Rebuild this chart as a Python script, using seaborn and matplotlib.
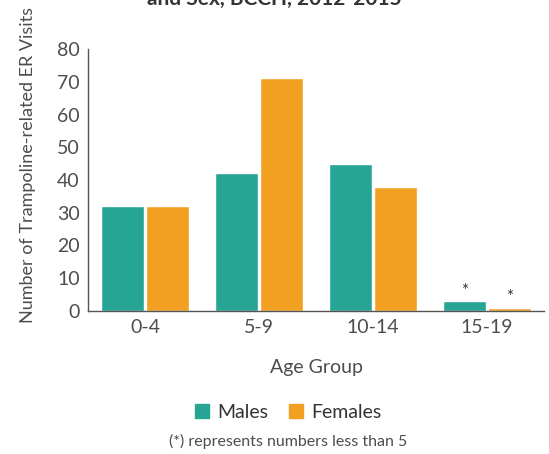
import matplotlib
matplotlib.use("Agg")
import matplotlib.pyplot as plt
import seaborn as sns
import pandas as pd
from matplotlib.lines import Line2D

age_groups = ["0-4", "5-9", "10-14", "15-19"]
males = [32, 42, 45, 3]
females = [32, 71, 38, 1]
small_flags_m = [False, False, False, True]
small_flags_f = [False, False, False, True]
series = ["Males", "Females"]
colors = ["#26a594", "#f2a022"]
y_ticks = [0, 10, 20, 30, 40, 50, 60, 70, 80]

df = pd.DataFrame({
    "Age Group": age_groups * 2,
    "Sex": ["Males"] * 4 + ["Females"] * 4,
    "Visits": males + females,
})

sns.set_style("white")
plt.rcParams["font.family"] = ["Lato", "DejaVu Sans"]
text_c = "#4d4d4d"

fig = plt.figure(figsize=(5.49, 4.54), dpi=100)
ax = fig.add_axes([88/549, 1-311/454, (544-88)/549, (311-49)/454])

sns.barplot(data=df, x="Age Group", y="Visits", hue="Sex", order=age_groups,
            hue_order=series, palette=colors, width=0.78, gap=0.035,
            saturation=1, legend=False, ax=ax, errorbar=None)

ax.set_xlim(-0.5, 3.5)
ax.set_ylim(0, 80)
ax.set_yticks(y_ticks)
ax.set_yticklabels([str(v) for v in y_ticks], fontsize=14, color=text_c)
ax.tick_params(axis="y", direction="in", length=8, width=1, color="#555555", pad=6)
ax.set_xticks(range(4))
ax.set_xticklabels(age_groups, fontsize=14, color=text_c)
ax.tick_params(axis="x", which="major", length=0, pad=6)
ax.set_xticks([0.5, 1.5, 2.5, 3.5], minor=True)
ax.tick_params(axis="x", which="minor", direction="in", length=6, width=1, color="#555555")

for s in ["top", "right"]:
    ax.spines[s].set_visible(False)
for s in ["left", "bottom"]:
    ax.spines[s].set_color("#555555")
    ax.spines[s].set_linewidth(1)

ax.set_xlabel("Age Group", fontsize=14, color=text_c, labelpad=16)
ax.set_ylabel("Number of Trampoline-related ER Visits", fontsize=13, color=text_c)
ax.yaxis.set_label_coords(-0.115, 0.557)

# stars for small numbers
patches = ax.patches
flags = small_flags_m + small_flags_f
vals = males + females
for p, f, v in zip(patches, flags, vals):
    if f:
        ax.text(p.get_x() + p.get_width()/2, v + 0.8, "*", ha="center", va="bottom",
                fontsize=12, color="#333333")

handles = [Line2D([], [], marker="s", linestyle="", markersize=10, color=c) for c in colors]
fig.legend(handles, series, loc="center", bbox_to_anchor=(288/549, 1-412/454), ncol=2,
           frameon=False, fontsize=14, handlelength=0.8, handletextpad=0.4, columnspacing=1.0,
           labelcolor="#333333")

fig.text(288/549, 1-441/454, "(*) represents numbers less than 5", ha="center", va="center",
         fontsize=11.5, color=text_c)

fig.text(274/549, 1-9/454, "Trampoline-related ER Visits by Age Group\nand Sex, BCCH, 2012-2015",
         ha="center", va="bottom", fontsize=15, fontweight="bold", color="#333333",
         linespacing=1.2)

fig.savefig("out.png", dpi=100)
